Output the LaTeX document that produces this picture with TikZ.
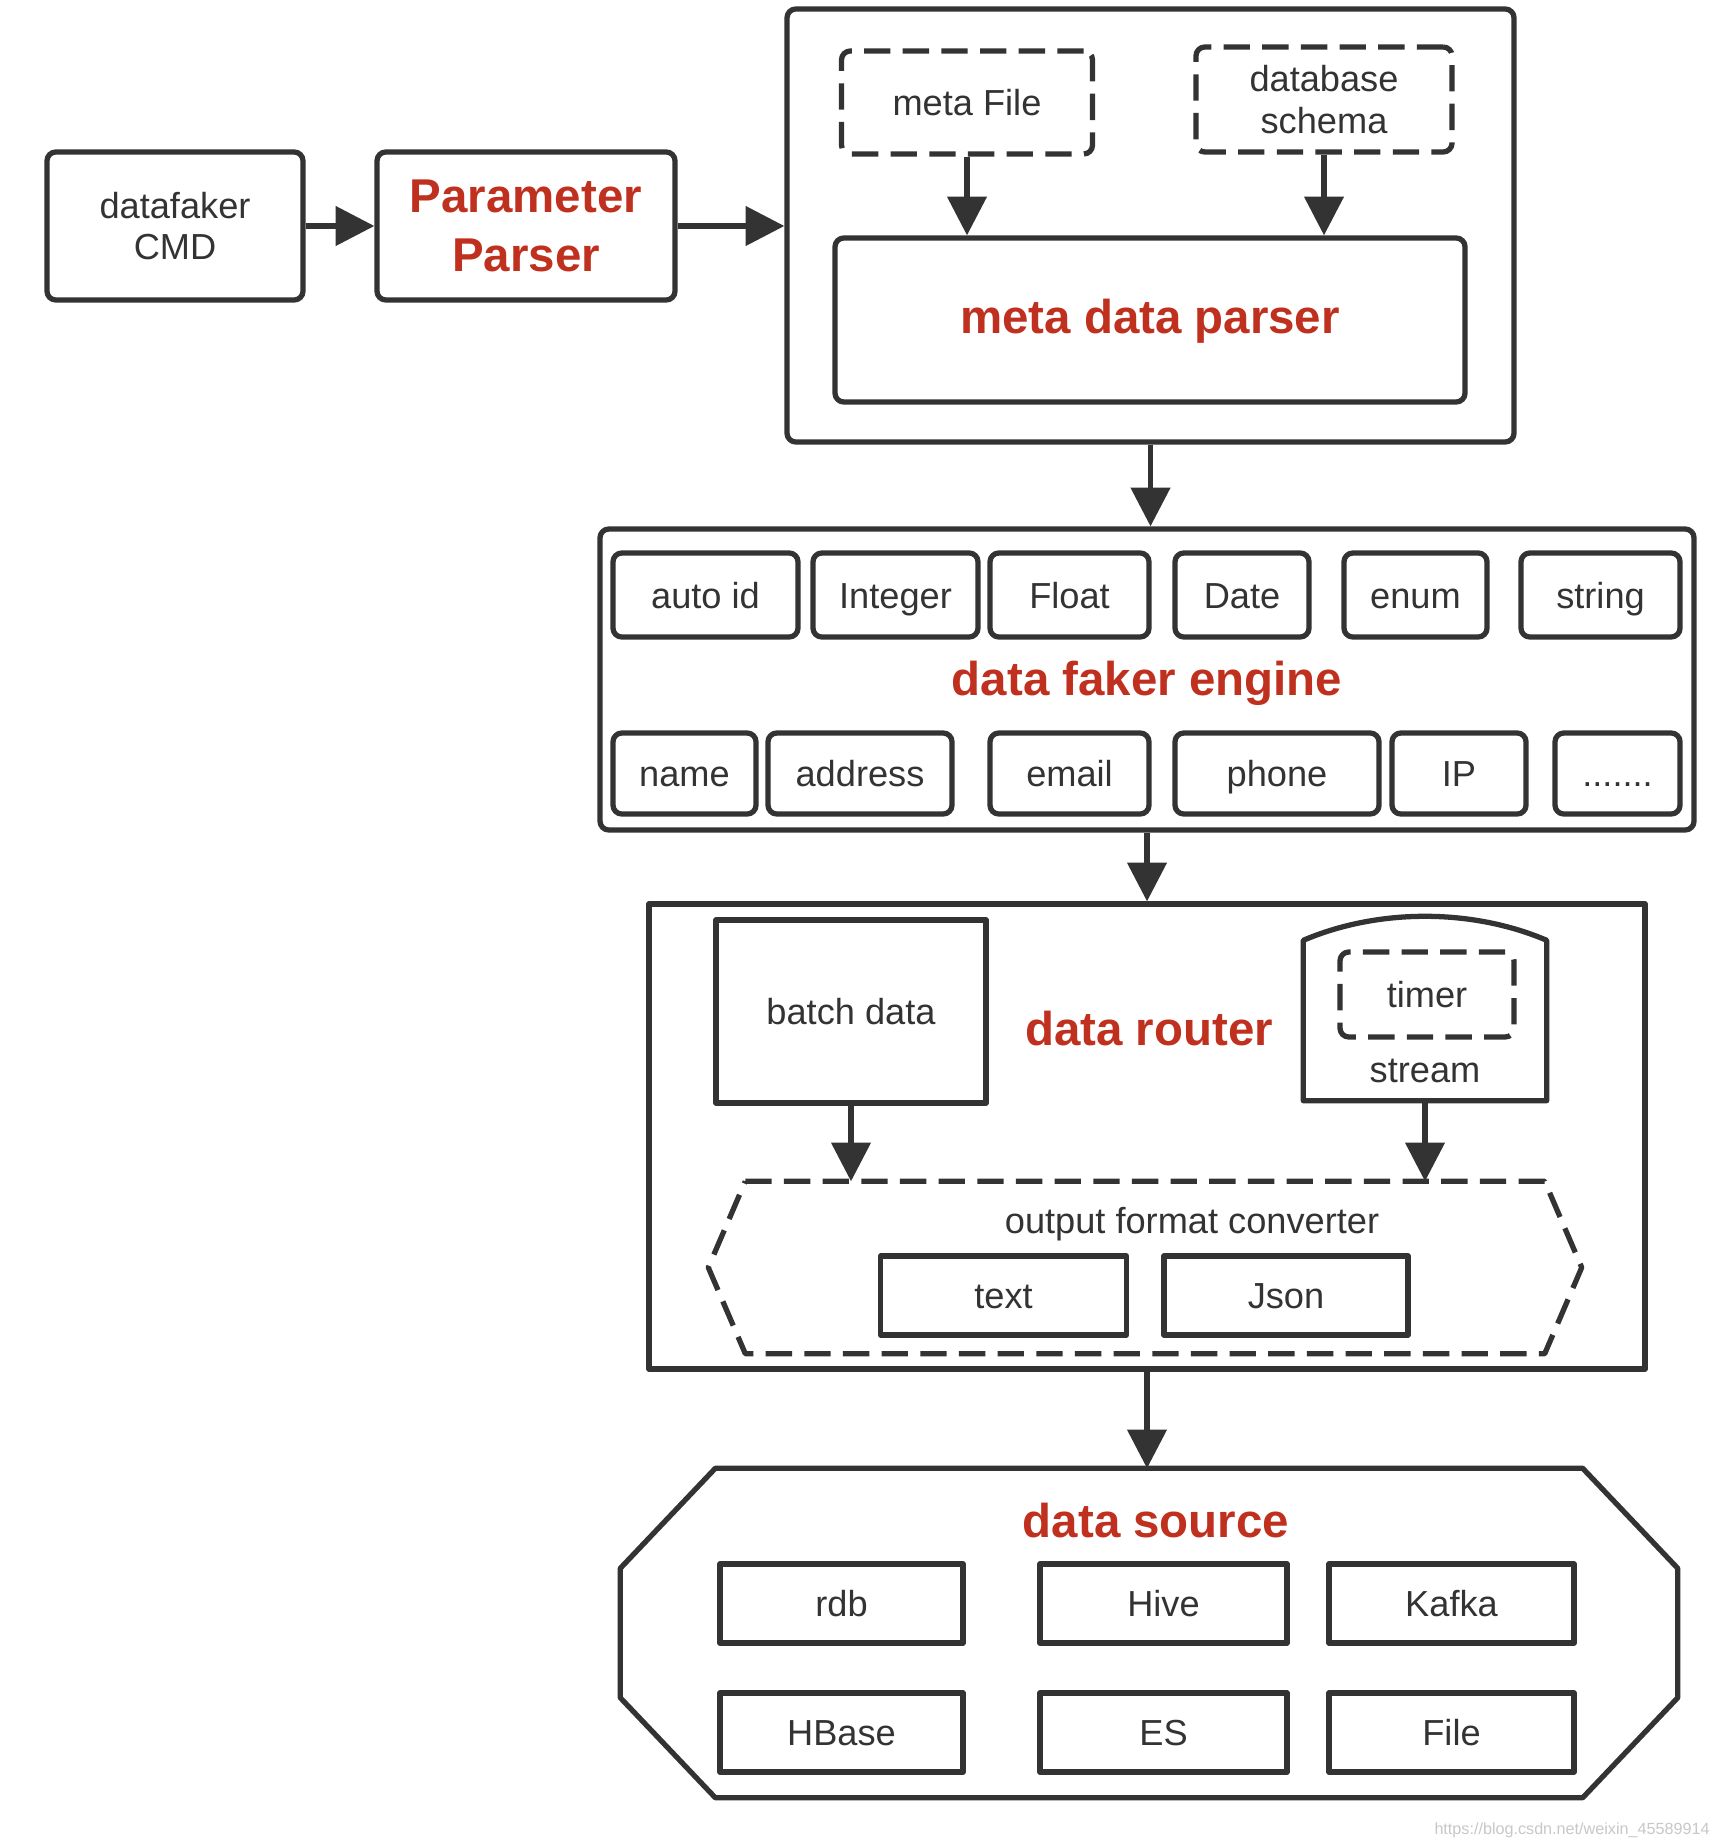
\documentclass[tikz,border=0pt]{standalone}
\usepackage{fontspec}
\setmainfont{Liberation Sans}
\usetikzlibrary{arrows.meta,calc}
\definecolor{line}{HTML}{333333}
\definecolor{ink}{HTML}{333333}
\definecolor{hot}{HTML}{C0301F}
\definecolor{wm}{HTML}{C8C8C8}
\newcommand{\labfont}{\fontsize{10.3}{11.8}\selectfont}
\newcommand{\ttlfont}{\fontsize{13.5}{17}\selectfont\bfseries}
\tikzset{
  base/.style={draw=line, line width=1.5pt, line join=round},
  dline/.style={base, dash pattern=on 7.5pt off 3.5pt},
  box/.style={base, rounded corners=2.5pt, text=ink, font=\labfont, align=center, inner sep=0pt},
  sbox/.style={base, text=ink, font=\labfont, align=center, inner sep=0pt},
  dbox/.style={box, dash pattern=on 7.5pt off 3.5pt},
  one/.style={text height=0.86em, text depth=0.1em},
  ghost/.style={inner sep=0pt},
  ttl/.style={text=hot, font=\ttlfont, align=center},
  lab/.style={text=ink, font=\labfont},
  arr/.style={draw=line, line width=1.5pt, -{Triangle[length=11pt,width=11pt]}},
  sz/.style 2 args={minimum width=#1cm, minimum height=#2cm},
}

\begin{document}
\begin{tikzpicture}
  \useasboundingbox (0,0) rectangle (17.18,-18.48);
  \fill[white] (0,0) rectangle (17.18,-18.48);

  % input
  \node[box,sz={2.56}{1.48}] (cmd) at (1.75,-2.26) {datafaker\\CMD};
  \node[box,ttl,sz={2.98}{1.48}] (pp) at (5.26,-2.26) {Parameter\\Parser};

  % meta data
  \node[box,sz={7.27}{4.33}] (meta) at (11.505,-2.255) {};
  \node[dbox,one,sz={2.51}{1.03}] (mfile) at (9.67,-1.025) {meta File};
  \node[dbox,sz={2.56}{1.05}] (dbs) at (13.24,-0.995) {database\\schema};
  \node[box,ttl,one,sz={6.30}{1.64}] (mdp) at (11.50,-3.20) {meta data parser};

  \draw[arr] (cmd.east) -- (pp.west);
  \draw[arr] (pp.east) -- (pp.east -| meta.west);
  \draw[arr] (mfile.south) -- (mfile.south |- mdp.north);
  \draw[arr] (dbs.south) -- (dbs.south |- mdp.north);

  % engine
  \node[box,sz={10.94}{3.01}] (eng) at (11.47,-6.795) {};
  \node[ttl,one] (engt) at (11.47,-6.82) {data faker engine};
  \node[box,one,sz={1.85}{0.84}] (autoid) at (7.055,-5.95) {auto id};
  \node[box,one,sz={1.65}{0.84}] (int) at (8.955,-5.95) {Integer};
  \node[box,one,sz={1.59}{0.84}] (flt) at (10.695,-5.95) {Float};
  \node[box,one,sz={1.34}{0.84}] (date) at (12.42,-5.95) {Date};
  \node[box,one,sz={1.43}{0.84}] (enum) at (14.155,-5.95) {enum};
  \node[box,one,sz={1.59}{0.84}] (str) at (16.005,-5.95) {string};
  \node[box,one,sz={1.43}{0.81}] (name) at (6.845,-7.735) {name};
  \node[box,one,sz={1.84}{0.81}] (addr) at (8.60,-7.735) {address};
  \node[box,one,sz={1.59}{0.81}] (email) at (10.695,-7.735) {email};
  \node[box,one,sz={2.04}{0.81}] (phone) at (12.77,-7.735) {phone};
  \node[box,one,sz={1.34}{0.81}] (ip) at (14.59,-7.735) {IP};
  \node[box,one,sz={1.25}{0.81}] (more) at (16.175,-7.735) {.......};

  \draw[arr] (meta.south) -- (meta.south |- eng.north);

  % router
  \node[sbox,sz={9.96}{4.65}] (rtr) at (11.47,-11.365) {};
  \node[sbox,one,sz={2.70}{1.83}] (batch) at (8.51,-10.115) {batch data};
  \node[ttl,one] (rtrt) at (11.49,-10.32) {data router};
  \node[ghost,sz={2.42}{1.59}] (strm) at (14.25,-10.205) {};
  \draw[base] (strm.south west) -- (strm.north west)
    .. controls ($(strm.north west)+(0.75,0.32)$) and ($(strm.north east)+(-0.75,0.32)$) .. (strm.north east)
    -- (strm.south east) -- cycle;
  \node[dbox,one,sz={1.74}{0.85}] (timer) at (14.27,-9.945) {timer};
  \node[lab,one] (strt) at (14.25,-10.69) {stream};

  \node[ghost,sz={8.72}{1.71}] (conv) at (11.45,-12.675) {};
  \draw[dline] ($(conv.north west)+(0.37,0)$) -- ($(conv.north east)+(-0.37,0)$) -- (conv.east)
    -- ($(conv.south east)+(-0.37,0)$) -- ($(conv.south west)+(0.37,0)$) -- (conv.west) -- cycle;
  \node[lab,one] (convt) at (11.92,-12.20) {output format converter};
  \node[sbox,one,sz={2.46}{0.79}] (txt) at (10.035,-12.955) {text};
  \node[sbox,one,sz={2.44}{0.79}] (json) at (12.86,-12.955) {Json};

  \draw[arr] (eng.south) -- (eng.south |- rtr.north);
  \draw[arr] (batch.south) -- (batch.south |- conv.north);
  \draw[arr] (strm.south) -- (strm.south |- conv.north);

  % source
  \node[ghost,sz={10.56}{3.28}] (src) at (11.49,-16.33) {};
  \draw[base] ($(src.north west)+(0.95,0)$) -- ($(src.north east)+(-0.95,0)$)
    -- ($(src.north east)+(0,-1.0)$) -- ($(src.south east)+(0,1.0)$)
    -- ($(src.south east)+(-0.95,0)$) -- ($(src.south west)+(0.95,0)$)
    -- ($(src.south west)+(0,1.0)$) -- ($(src.north west)+(0,-1.0)$) -- cycle;
  \node[ttl,one] (srct) at (11.56,-15.24) {data source};
  \node[sbox,one,sz={2.43}{0.79}] (rdb) at (8.415,-16.035) {rdb};
  \node[sbox,one,sz={2.47}{0.79}] (hive) at (11.635,-16.035) {Hive};
  \node[sbox,one,sz={2.45}{0.79}] (kafka) at (14.515,-16.035) {Kafka};
  \node[sbox,one,sz={2.43}{0.79}] (hbase) at (8.415,-17.325) {HBase};
  \node[sbox,one,sz={2.47}{0.79}] (es) at (11.635,-17.325) {ES};
  \node[sbox,one,sz={2.45}{0.79}] (file) at (14.515,-17.325) {File};

  \draw[arr] (rtr.south) -- (rtr.south |- src.north);

  \node[text=wm, font=\fontsize{4.6}{5}\selectfont] (wmark) at (15.72,-18.30) {https://blog.csdn.net/weixin\_45589914};
\end{tikzpicture}
\end{document}
